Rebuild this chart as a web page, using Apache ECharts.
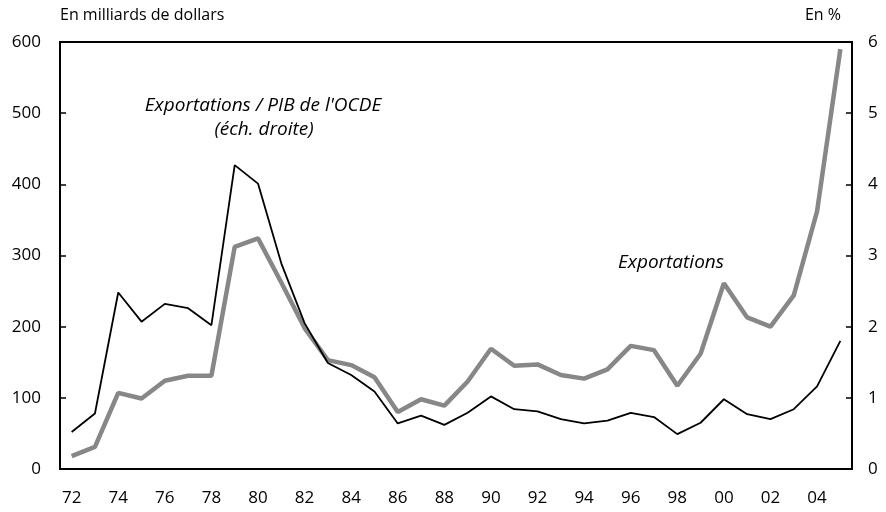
<!DOCTYPE html>
<html><head><meta charset="utf-8">
<script src="https://cdn.jsdelivr.net/npm/echarts@6/dist/echarts.min.js"></script>
<style>html,body{margin:0;padding:0;background:#fff}#c{width:886px;height:512px}</style>
</head><body><div id="c"></div>
<script>
var years = ['72','73','74','75','76','77','78','79','80','81','82','83','84','85','86','87','88','89','90','91','92','93','94','95','96','97','98','99','00','01','02','03','04','05'];
var exportations = [18,31,107,99,124,131,131,312,324,262,198,153,146,129,80,98,89,123,169,145,147,132,127,140,173,167,117,162,261,213,200,244,362,590];
var exportPib = [0.52,0.78,2.48,2.07,2.32,2.26,2.02,4.27,4.01,2.89,2.05,1.49,1.32,1.09,0.64,0.75,0.62,0.79,1.02,0.84,0.81,0.70,0.64,0.68,0.79,0.73,0.49,0.65,0.98,0.77,0.70,0.84,1.16,1.80];
var leftTicks = [0,100,200,300,400,500,600];
var rightTicks = [0,1,2,3,4,5,6];

var FONT = '"Open Sans"';
var chart = echarts.init(document.getElementById('c'));
chart.setOption({
  animation:false,
  textStyle:{fontFamily:FONT},
  grid:{left:60,right:34,top:42,bottom:43,show:true,borderColor:'#000',borderWidth:2,backgroundColor:'transparent'},
  xAxis:{type:'category',data:years,boundaryGap:true,
    axisLine:{lineStyle:{color:'#000',width:2}},
    axisTick:{inside:true,length:6,interval:0,lineStyle:{color:'#000',width:1.5}},
    axisLabel:{interval:1,color:'#000',fontSize:17,margin:21,fontFamily:FONT},
    splitLine:{show:false}},
  yAxis:[
    {type:'value',min:leftTicks[0],max:leftTicks[leftTicks.length-1],interval:100,position:'left',
     axisLine:{show:true,lineStyle:{color:'#000',width:2}},
     axisTick:{show:true,inside:true,length:6,lineStyle:{color:'#000',width:1.5}},
     axisLabel:{color:'#000',fontSize:17,margin:19,fontFamily:FONT},
     splitLine:{show:false}},
    {type:'value',min:rightTicks[0],max:rightTicks[rightTicks.length-1],interval:1,position:'right',
     axisLine:{show:true,lineStyle:{color:'#000',width:2}},
     axisTick:{show:true,inside:true,length:6,lineStyle:{color:'#000',width:1.5}},
     axisLabel:{color:'#000',fontSize:17,margin:16,fontFamily:FONT},
     splitLine:{show:false}}
  ],
  series:[
    {name:'Exportations',type:'line',yAxisIndex:0,data:exportations,symbol:'none',
     lineStyle:{color:'#878787',width:4.5},z:2},
    {name:'Exportations / PIB de l\'OCDE',type:'line',yAxisIndex:1,data:exportPib,symbol:'none',
     lineStyle:{color:'#000',width:1.8},z:3}
  ],
  graphic:[
    {type:'text',x:60,y:15,style:{text:'En milliards de dollars',font:'16px '+FONT,fill:'#000',verticalAlign:'middle'}},
    {type:'text',x:841,y:15,style:{text:'En %',font:'16px '+FONT,fill:'#000',align:'right',verticalAlign:'middle'}},
    {type:'text',x:263,y:106,style:{text:'Exportations / PIB de l\'OCDE',font:'italic 19px '+FONT,fill:'#000',align:'center',verticalAlign:'middle'}},
    {type:'text',x:264,y:130,style:{text:'(éch. droite)',font:'italic 19px '+FONT,fill:'#000',align:'center',verticalAlign:'middle'}},
    {type:'text',x:671,y:263,style:{text:'Exportations',font:'italic 19px '+FONT,fill:'#000',align:'center',verticalAlign:'middle'}}
  ]
});
</script></body></html>
